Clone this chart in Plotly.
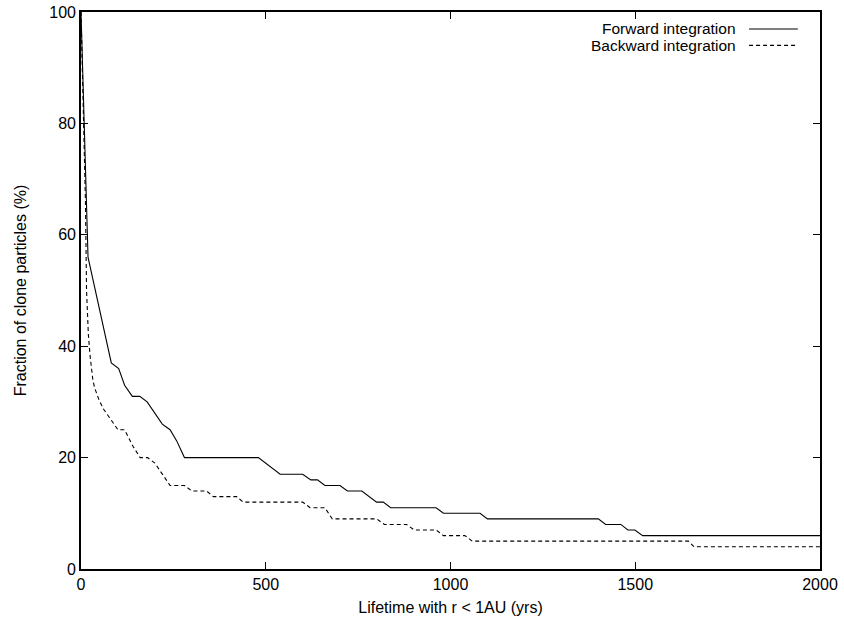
import plotly.graph_objects as go

# Forward integration (solid)
fwd_x = [0, 19, 82, 102, 118, 139, 159, 179, 220, 241, 259, 280, 480, 539, 600, 622, 640, 660,
         701, 721, 760, 800, 818, 838, 961, 981, 1080, 1100, 1400, 1420, 1461, 1480, 1499, 1520, 2000]
fwd_y = [100, 56, 37, 36, 33, 31, 31, 30, 26, 25, 23, 20, 20, 17, 17, 16, 16, 15,
         15, 14, 14, 12, 12, 11, 11, 10, 10, 9, 9, 8, 8, 7, 7, 6, 6]

# Backward integration (dashed)
bwd_x = [0, 12, 15, 20, 25, 32, 37, 48, 60, 80, 100, 118, 141, 160, 180, 200, 220, 241, 280, 300,
         340, 358, 421, 439, 600, 620, 660, 680, 800, 821, 881, 902, 961, 981, 1039, 1059, 1644, 1659, 2000]
bwd_y = [100, 66, 50, 42, 38, 34, 32.5, 30.5, 28.8, 27, 25, 25, 22, 20, 20, 19, 17, 15, 15, 14,
         14, 13, 13, 12, 12, 11, 11, 9, 9, 8, 8, 7, 7, 6, 6, 5, 5, 4, 4]

x_ticks = [0, 500, 1000, 1500, 2000]
y_ticks = [0, 20, 40, 60, 80, 100]
series_names = ["Forward integration", "Backward integration"]

FONT = "Liberation Sans, Arial, Helvetica, sans-serif"
FS = 16

fig = go.Figure()
fig.add_trace(go.Scatter(x=fwd_x, y=fwd_y, mode="lines", name=series_names[0],
                         line=dict(color="black", width=1.1)))
fig.add_trace(go.Scatter(x=bwd_x, y=bwd_y, mode="lines", name=series_names[1],
                         line=dict(color="black", width=1.1, dash="4px,3px")))

axis_common = dict(showline=True, linecolor="black", linewidth=1.6, mirror="ticks",
                   ticks="inside", ticklen=7, tickwidth=1.2, tickcolor="black",
                   showgrid=False, zeroline=False, automargin=False,
                   tickfont=dict(family=FONT, size=FS, color="black"))

fig.update_xaxes(range=[0, 2000], tickvals=x_ticks, ticktext=[str(v) for v in x_ticks],
                 title=dict(text="Lifetime with r < 1AU (yrs)", font=dict(family=FONT, size=FS, color="black"),
                            standoff=10),
                 **axis_common)
fig.update_yaxes(range=[0, 100], tickvals=y_ticks, ticktext=[str(v) for v in y_ticks],
                 title=dict(text="Fraction of clone particles (%)", font=dict(family=FONT, size=FS, color="black"),
                            standoff=19),
                 **axis_common)

# Gnuplot-style key: text right-aligned, line sample to its right
key_rows = [0.9695, 0.940]
key_dash = ["solid", "4px,3px"]
for name, yy, dsh in zip(series_names, key_rows, key_dash):
    fig.add_annotation(xref="paper", yref="paper", x=0.8877, y=yy, text=name, showarrow=False,
                       xanchor="right", yanchor="middle", borderpad=0,
                       font=dict(family=FONT, size=15.5, color="black"))
    fig.add_shape(type="line", xref="paper", yref="paper", x0=0.904, x1=0.970, y0=yy, y1=yy,
                  line=dict(color="black", width=1.1, dash=dsh))

fig.update_layout(width=844, height=622, showlegend=False,
                  margin=dict(l=81, r=24, t=12, b=53, autoexpand=False),
                  plot_bgcolor="white", paper_bgcolor="white",
                  font=dict(family=FONT, size=FS, color="black"))

fig.write_html("out.html")
